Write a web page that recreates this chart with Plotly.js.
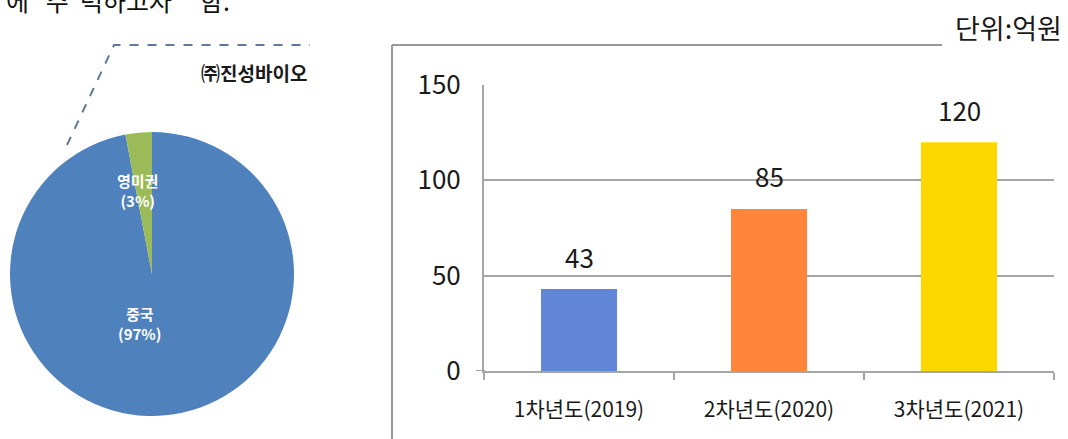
<!DOCTYPE html>
<html>
<head>
<meta charset="utf-8">
<script src="https://cdn.plot.ly/plotly-3.0.1.min.js"></script>
<style>
  html, body { margin: 0; padding: 0; background: #ffffff; }
  #chart { width: 1068px; height: 439px; }
</style>
</head>
<body>
<div id="chart"></div>
<script>
// Export share by region (pie); drawn clockwise from 12 o'clock
const regionLabels = ['중국', '영미권'];
const regionShares = [97, 3];
const regionColors = ['#4F81BD', '#9BBB59'];

// Sales plan by year, 억원 (bar)
const yearLabels = ['1차년도(2019)', '2차년도(2020)', '3차년도(2021)'];
const yearValues = [43, 85, 120];
const yearColors = ['#6185D7', '#FF853A', '#FCD800'];

const yTicks = [0, 50, 100, 150];

const W = 1068, H = 439;
const FONT = '"Noto Sans CJK KR", "Noto Sans", sans-serif';
const px = x => x / W;
const py = y => 1 - y / H;
const sp = n => '\u00a0'.repeat(n);

const pie = {
  type: 'pie',
  labels: regionLabels,
  values: regionShares,
  marker: { colors: regionColors, line: { width: 0 } },
  sort: false,
  direction: 'clockwise',
  rotation: 0,
  textinfo: 'none',
  hoverinfo: 'label+percent',
  domain: { x: [px(152 - 142), px(152 + 142)], y: [py(274 + 142), py(274 - 142)] }
};

const bars = {
  type: 'bar',
  x: yearLabels,
  y: yearValues,
  width: 0.4,
  marker: { color: yearColors },
  xaxis: 'x',
  yaxis: 'y',
  hoverinfo: 'x+y'
};

const grey = '#A6A6A6';

// Slice captions, written inside the pie
const pieLabelPos = [[140, 323], [137, 190]];
const pieNotes = regionLabels.map((lab, i) => ({
  xref: 'paper', yref: 'paper',
  x: px(pieLabelPos[i][0]), y: py(pieLabelPos[i][1]),
  xanchor: 'center', yanchor: 'middle',
  text: '<b>' + lab + '</b><br><b>(' + regionShares[i] + '%)</b>',
  showarrow: false,
  font: { family: FONT, size: 15, color: '#FFFFFF' }
}));

// Value labels above each bar
const barNotes = yearLabels.map((c, i) => ({
  xref: 'x', yref: 'y',
  x: c, y: yearValues[i],
  yshift: 33,
  xanchor: 'center', yanchor: 'middle',
  text: String(yearValues[i]),
  showarrow: false,
  font: { family: FONT, size: 26, color: '#1A1A1A' }
}));

const layout = {
  width: W, height: H,
  margin: { l: 0, r: 0, t: 0, b: 0 },
  paper_bgcolor: '#FFFFFF',
  plot_bgcolor: 'rgba(0,0,0,0)',
  showlegend: false,
  font: { family: FONT, color: '#1A1A1A' },
  xaxis: {
    domain: [px(484), px(1054)],
    type: 'category',
    showline: true, linecolor: grey, linewidth: 2,
    ticks: 'outside', tickson: 'boundaries', ticklen: 7, tickwidth: 2, tickcolor: grey,
    showgrid: false, zeroline: false,
    tickfont: { family: FONT, size: 21, color: '#1A1A1A' },
    ticklabelstandoff: 19,
    fixedrange: true
  },
  yaxis: {
    domain: [py(371), py(85)],
    range: [0, 150],
    tickvals: yTicks,
    ticktext: yTicks.map(String),
    showline: true, linecolor: grey, linewidth: 2,
    showgrid: true, gridcolor: grey, gridwidth: 2,
    zeroline: false,
    ticks: '',
    tickfont: { family: FONT, size: 26, color: '#1A1A1A' },
    ticklabelstandoff: 16,
    fixedrange: true
  },
  shapes: [
    // dashed leader above the pie
    {
      type: 'path', xref: 'paper', yref: 'paper',
      path: 'M ' + px(67) + ',' + py(145) + ' L ' + px(114) + ',' + py(45) + ' L ' + px(310) + ',' + py(45),
      line: { color: '#60789A', width: 2, dash: 'dash' }
    },
    // frame around the bar chart
    {
      type: 'line', xref: 'paper', yref: 'paper',
      x0: px(392), x1: px(392), y0: py(45), y1: 0,
      line: { color: '#999999', width: 2 }
    },
    {
      type: 'line', xref: 'paper', yref: 'paper',
      x0: px(392), x1: px(942), y0: py(45), y1: py(45),
      line: { color: '#999999', width: 2 }
    },
    // small stub of the category axis left of the value axis
    {
      type: 'line', xref: 'paper', yref: 'y',
      x0: px(476), x1: px(485), y0: 0, y1: 0,
      line: { color: grey, width: 2 }
    }
  ],
  annotations: [
    {
      xref: 'paper', yref: 'paper', x: px(4), y: 1,
      xanchor: 'left', yanchor: 'middle', yshift: 0,
      text: '에' + sp(3) + '주' + sp(2) + '력하고자' + sp(5) + '함.',
      showarrow: false,
      font: { family: FONT, size: 25, color: '#111111' }
    },
    {
      xref: 'paper', yref: 'paper', x: px(309), y: py(73),
      xanchor: 'right', yanchor: 'middle',
      text: '<b>㈜진성바이오</b>',
      showarrow: false,
      font: { family: FONT, size: 19, color: '#1A1A1A' }
    },
    {
      xref: 'paper', yref: 'paper', x: px(1064), y: py(27),
      xanchor: 'right', yanchor: 'middle',
      text: '단위:억원',
      showarrow: false,
      font: { family: FONT, size: 27, color: '#1A1A1A' }
    }
  ].concat(pieNotes, barNotes)
};

Plotly.newPlot('chart', [pie, bars], layout, { displayModeBar: false, staticPlot: true });
</script>
</body>
</html>
